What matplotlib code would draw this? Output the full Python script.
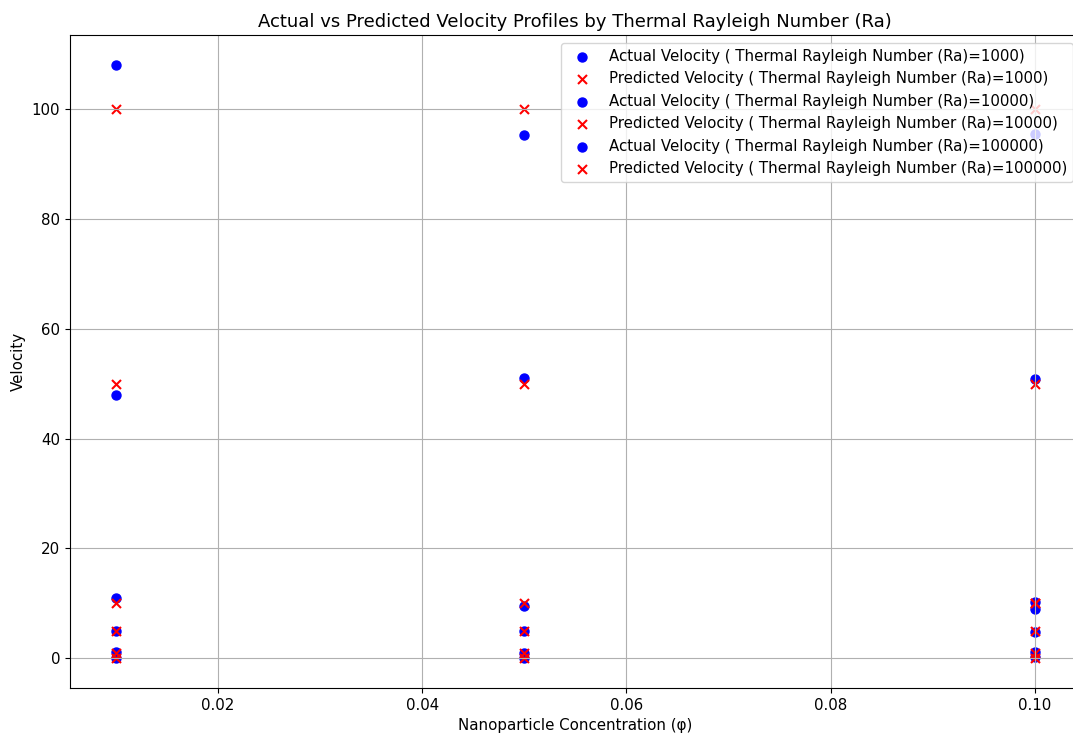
import matplotlib
matplotlib.use("Agg")
import matplotlib.pyplot as plt

plt.rcParams["font.size"] = 10.8

# velocity data per thermal Rayleigh number
ra_values = [1000, 10000, 100000]
phi = {
    1000: [0.01, 0.01, 0.05, 0.05, 0.10, 0.10],
    10000: [0.01, 0.01, 0.05, 0.05, 0.10, 0.10, 0.10],
    100000: [0.01, 0.01, 0.05, 0.05, 0.10, 0.10],
}
actual = {
    1000: [0.1, 1.1, 0.05, 0.9, 0.2, 1.1],
    10000: [4.9, 11.0, 5.0, 9.5, 4.8, 10.3, 9.0],
    100000: [48.0, 108.0, 51.0, 95.2, 50.8, 95.5],
}
predicted = {
    1000: [0, 1, 0, 1, 0, 1],
    10000: [5, 10, 5, 10, 5, 10, 10],
    100000: [50, 100, 50, 100, 50, 100],
}

fig = plt.figure(figsize=(10.73, 7.4), dpi=100)
ax = fig.add_axes([0.0652, 0.0703, 0.942, 0.882])

for ra in ra_values:
    ax.scatter(phi[ra], actual[ra], color="blue", marker="o", s=42,
               label=f"Actual Velocity ( Thermal Rayleigh Number (Ra)={ra})")
    ax.scatter(phi[ra], predicted[ra], color="red", marker="x", s=42,
               label=f"Predicted Velocity ( Thermal Rayleigh Number (Ra)={ra})")

ax.set_xlabel("Nanoparticle Concentration (φ)")
ax.set_ylabel("Velocity")
ax.set_title("Actual vs Predicted Velocity Profiles by Thermal Rayleigh Number (Ra)", fontsize=13)
ax.legend(loc="upper right")
ax.grid(True)

fig.savefig("out.png", dpi=100)
